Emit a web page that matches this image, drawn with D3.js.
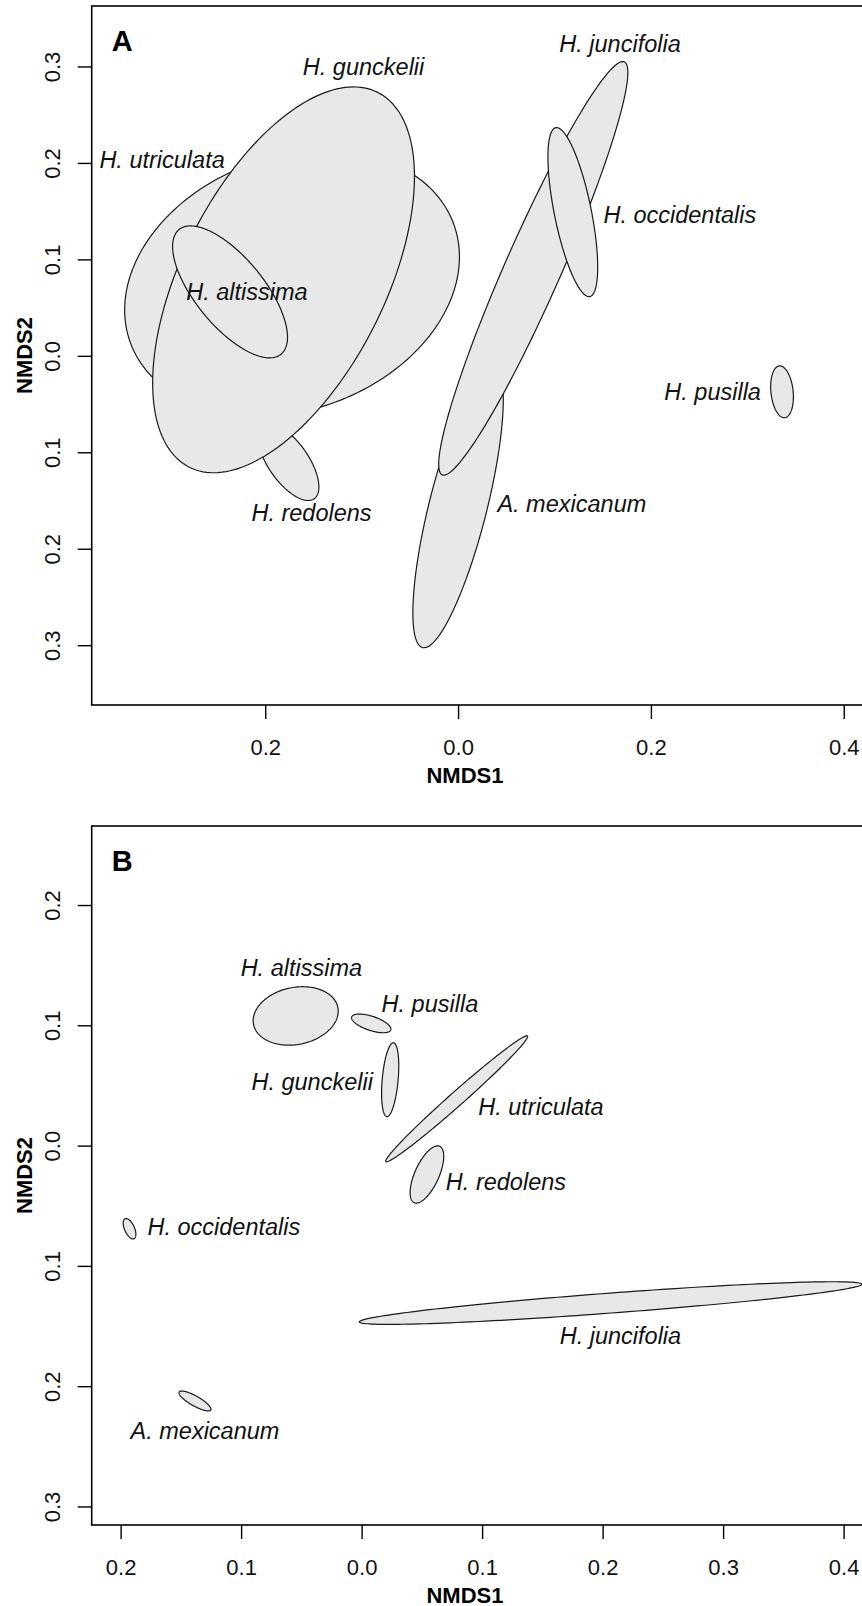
<!DOCTYPE html>
<html>
<head>
<meta charset="utf-8">
<script src="https://cdn.jsdelivr.net/npm/d3@7/dist/d3.min.js"></script>
<style>
  body { margin: 0; background: #fff; }
  text { font-family: "Liberation Sans", Arial, Helvetica, sans-serif; }
</style>
</head>
<body>
<svg id="chart"></svg>
<script>
// panel A : ellipses (centre, semi axes, angle in degrees) and label spots, NMDS units
var speciesA  = ['A. mexicanum', 'H. juncifolia', 'H. occidentalis', 'H. pusilla', 'H. utriculata', 'H. redolens', 'H. gunckelii', 'H. altissima'];
var centerXA  = [0.000, 0.078, 0.119, 0.336, -0.1722, -0.176, -0.181, -0.2365];
var centerYA  = [-0.156, 0.0907, 0.149, -0.0373, 0.0751, -0.110, 0.0788, 0.0663];
var semiMajA  = [0.151, 0.234, 0.0893, 0.027, 0.1786, 0.0466, 0.2175, 0.0835];
var semiMinA  = [0.030, 0.029, 0.0192, 0.0115, 0.131, 0.0207, 0.1055, 0.0355];
var angleA    = [75.9, 66.2, -78.6, -84, 20.2, -55, 63.3, -50.7];
var labelXA   = [0.118, 0.168, 0.230, 0.264, -0.307, -0.152, -0.098, -0.219];
var labelYA   = [-0.153, 0.324, 0.146, -0.037, 0.203, -0.163, 0.300, 0.066];
var xTicksA   = [-0.2, 0.0, 0.2, 0.4];
var yTicksA   = [-0.3, -0.2, -0.1, 0.0, 0.1, 0.2, 0.3];

// panel B
var speciesB  = ['H. altissima', 'H. pusilla', 'H. gunckelii', 'H. utriculata', 'H. redolens', 'H. occidentalis', 'A. mexicanum', 'H. juncifolia'];
var centerXB  = [-0.0547, 0.008, 0.0237, 0.0789, 0.0542, -0.1926, -0.1383, 0.2066];
var centerYB  = [0.1078, 0.1016, 0.0548, 0.0389, -0.024, -0.0691, -0.2123, -0.1309];
var semiMajB  = [0.0357, 0.0171, 0.0308, 0.0786, 0.0257, 0.0091, 0.0151, 0.2091];
var semiMinB  = [0.0237, 0.0059, 0.0066, 0.0058, 0.010, 0.0041, 0.0041, 0.0083];
var angleB    = [11.6, -18.4, 84.9, 41.6, 65.7, -66, -29.6, 4.3];
var labelXB   = [-0.050, 0.0567, -0.041, 0.1488, 0.1198, -0.1143, -0.130, 0.2148];
var labelYB   = [0.1475, 0.1176, 0.0529, 0.0321, -0.0302, -0.0675, -0.2372, -0.1579];
var xTicksB   = [-0.2, -0.1, 0.0, 0.1, 0.2, 0.3, 0.4];
var yTicksB   = [-0.3, -0.2, -0.1, 0.0, 0.1, 0.2];

var W = 862, H = 1606;
var svg = d3.select('#chart').attr('width', W).attr('height', H);

function ellipsePoints(cx, cy, a, b, deg) {
    var th = deg * Math.PI / 180;
    return d3.range(0, 362, 2).map(function(t) {
        var r = t * Math.PI / 180;
        return [cx + a * Math.cos(r) * Math.cos(th) - b * Math.sin(r) * Math.sin(th),
                cy + a * Math.cos(r) * Math.sin(th) + b * Math.sin(r) * Math.cos(th)];
    });
}

// tick labels in the source lost their minus signs
var fmt = function(d) { return d3.format('.1f')(Math.abs(d)); };

function drawPanel(p) {
    var x = d3.scaleLinear().domain(p.xDomain).range([p.left, p.right]);
    var y = d3.scaleLinear().domain(p.yDomain).range([p.bottom, p.top]);
    var g = svg.append('g');

    var line = d3.line()
        .x(function(d) { return x(d[0]); })
        .y(function(d) { return y(d[1]); });

    var rows = p.species.map(function(s, i) {
        return {name: s, cx: p.cx[i], cy: p.cy[i], a: p.a[i], b: p.b[i], ang: p.ang[i], lx: p.lx[i], ly: p.ly[i]};
    });

    g.selectAll('path.ell')
        .data(rows)
        .enter()
        .append('path')
        .attr('class', 'ell')
        .attr('d', function(d) { return line(ellipsePoints(d.cx, d.cy, d.a, d.b, d.ang)) + 'Z'; })
        .attr('fill', '#e8e8e8')
        .attr('stroke', '#1a1a1a')
        .attr('stroke-width', 1.2);

    g.selectAll('text.lab')
        .data(rows)
        .enter()
        .append('text')
        .attr('class', 'lab')
        .attr('x', function(d) { return x(d.lx); })
        .attr('y', function(d) { return y(d.ly); })
        .attr('dy', '0.35em')
        .attr('text-anchor', 'middle')
        .attr('font-size', 23.5)
        .attr('font-style', 'italic')
        .attr('fill', '#111')
        .text(function(d) { return d.name; });

    // box
    g.append('rect')
        .attr('x', p.left).attr('y', p.top)
        .attr('width', p.right - p.left).attr('height', p.bottom - p.top)
        .attr('fill', 'none')
        .attr('stroke', '#000')
        .attr('stroke-width', 1.6);

    var xa = g.append('g')
        .attr('transform', 'translate(0,' + p.bottom + ')')
        .call(d3.axisBottom(x).tickValues(p.xTicks).tickSize(14).tickSizeOuter(0).tickFormat(fmt));
    xa.select('.domain').remove();
    xa.attr('font-size', 22).attr('font-family', '"Liberation Sans", Arial, sans-serif');
    xa.selectAll('line').attr('stroke-width', 1.4);
    xa.selectAll('text').attr('y', 50).attr('dy', 0).attr('fill', '#111');

    var ya = g.append('g')
        .attr('transform', 'translate(' + p.left + ',0)')
        .call(d3.axisLeft(y).tickValues(p.yTicks).tickSize(14).tickSizeOuter(0).tickFormat(fmt));
    ya.select('.domain').remove();
    ya.attr('font-size', 22).attr('font-family', '"Liberation Sans", Arial, sans-serif');
    ya.selectAll('line').attr('stroke-width', 1.4);
    ya.selectAll('text')
        .attr('transform', 'rotate(-90)')
        .attr('x', 0)
        .attr('y', -31.5)
        .attr('dy', 0)
        .attr('text-anchor', 'middle')
        .attr('fill', '#111');

    g.append('text')
        .attr('x', 465)
        .attr('y', p.bottom + 77.5)
        .attr('text-anchor', 'middle')
        .attr('font-size', 22)
        .attr('font-weight', 'bold')
        .text('NMDS1');

    g.append('text')
        .attr('transform', 'translate(31.5,' + ((p.top + p.bottom) / 2) + ') rotate(-90)')
        .attr('text-anchor', 'middle')
        .attr('font-size', 22)
        .attr('font-weight', 'bold')
        .text('NMDS2');

    g.append('text')
        .attr('x', p.left + 20)
        .attr('y', p.top + 44.5)
        .attr('font-size', 29)
        .attr('font-weight', 'bold')
        .text(p.letter);
}

drawPanel({
    letter: 'A', left: 91.7, right: 882.3, top: 6, bottom: 705,
    xDomain: [-0.38, 0.44], yDomain: [-0.362, 0.3627],
    xTicks: xTicksA, yTicks: yTicksA,
    species: speciesA, cx: centerXA, cy: centerYA, a: semiMajA, b: semiMinA, ang: angleA, lx: labelXA, ly: labelYA
});

drawPanel({
    letter: 'B', left: 91.7, right: 891.8, top: 826, bottom: 1525,
    xDomain: [-0.224, 0.44], yDomain: [-0.3154, 0.2657],
    xTicks: xTicksB, yTicks: yTicksB,
    species: speciesB, cx: centerXB, cy: centerYB, a: semiMajB, b: semiMinB, ang: angleB, lx: labelXB, ly: labelYB
});
</script>
</body>
</html>
